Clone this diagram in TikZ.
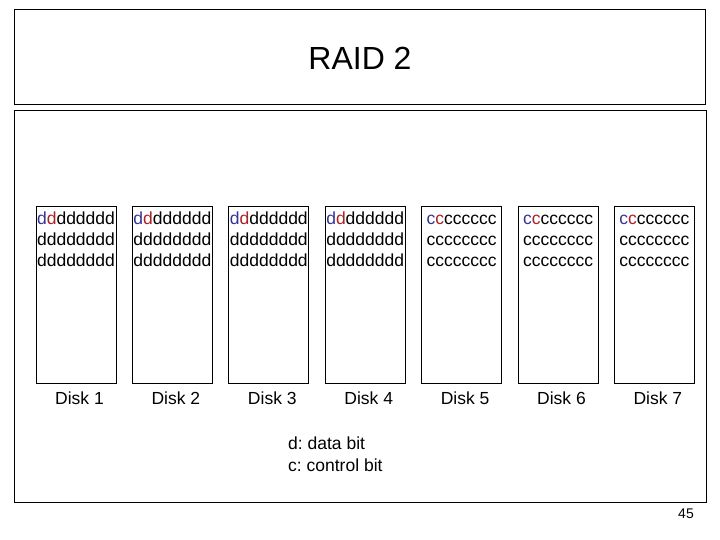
\documentclass[tikz,border=0pt]{standalone}
\usepackage{fontspec}
\setmainfont{Liberation Sans}
\usepackage{xcolor}
\usetikzlibrary{positioning}
\frenchspacing

\definecolor{bitblue}{RGB}{51,51,153}
\definecolor{bitred}{RGB}{170,34,34}
\newcommand{\bitlines}[1]{\vphantom{d}\textcolor{bitblue}{#1}\textcolor{bitred}{#1}#1#1#1#1#1#1\\#1#1#1#1#1#1#1#1\\#1#1#1#1#1#1#1#1}

\begin{document}
\begin{tikzpicture}[x=1pt,y=-1pt,
  frame/.style={draw, line width=1pt},
  disk/.style={draw, line width=0.9pt, minimum width=80pt, minimum height=176.5pt, inner sep=0pt},
  bits/.style={inner sep=0pt, align=center, font=\fontsize{17.5}{21}\selectfont},
  disklabel/.style={inner sep=2pt, font=\fontsize{17.5}{21}\selectfont},
  title/.style={inner sep=0pt, font=\fontsize{32}{38}\selectfont},
  legend/.style={inner sep=0pt, align=left, font=\fontsize{17.5}{22}\selectfont},
  pagenum/.style={inner sep=0pt, font=\fontsize{14}{16}\selectfont}]
\useasboundingbox (0,0) rectangle (720,540);

% Title frame
\draw[frame] (14,9.5) rectangle (705,105);
\node[title] (title) at (360,58) {RAID 2};

% Main frame
\draw[frame] (14,111) rectangle (706,502);

% Disks
\foreach \i/\b in {1/d,2/d,3/d,4/d,5/c,6/c,7/c} {
  \node[disk] (disk\i) at ({76+96.4*(\i-1)},295) {};
  \node[bits, anchor=north] (bits\i) at ([yshift=-5pt]disk\i.north) {\bitlines{\b}};
  \node[disklabel, below=6pt of disk\i, xshift=3.5pt] (label\i) {Disk \i};
}

% Legend
\node[legend, anchor=north west] (legend) at (288,436.5) {d: data bit\\c: control bit};

% Page number
\node[pagenum] (page) at (686,514) {45};
\end{tikzpicture}
\end{document}
